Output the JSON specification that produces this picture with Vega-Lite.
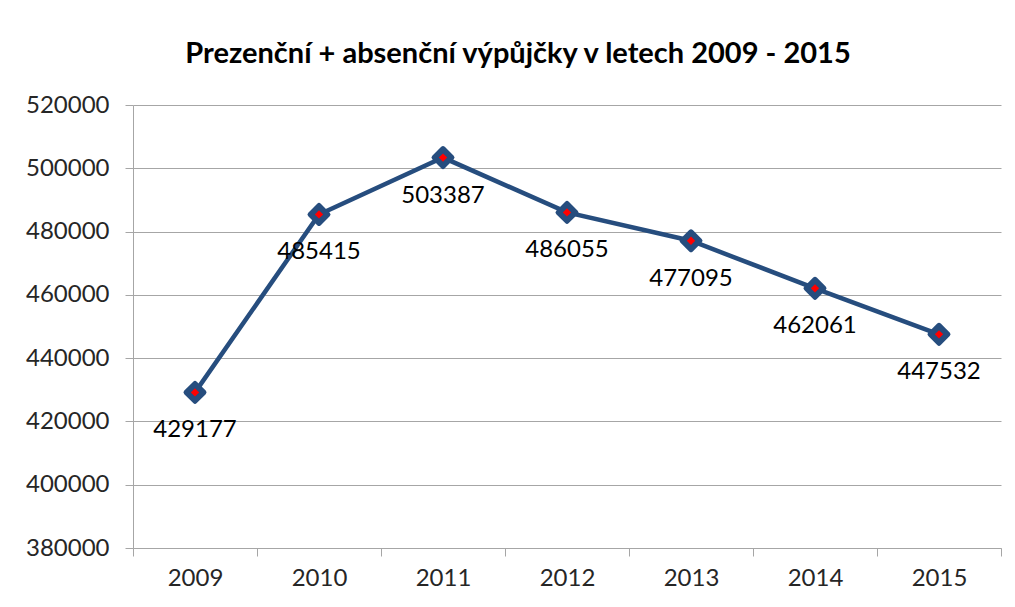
{
  "$schema": "https://vega.github.io/schema/vega-lite/v6.json",
  "width": 868,
  "height": 443,
  "autosize": "none",
  "padding": {"left": 133, "top": 105, "right": 14, "bottom": 59},
  "background": "white",
  "title": {
    "text": "Prezenční + absenční výpůjčky v letech 2009 - 2015",
    "font": "Lato",
    "fontSize": 29,
    "fontWeight": "bold",
    "color": "#000000",
    "anchor": "middle",
    "dx": -49,
    "offset": 24
  },
  "data": {
    "values": [
      {"year": "2009", "value": 429177},
      {"year": "2010", "value": 485415},
      {"year": "2011", "value": 503387},
      {"year": "2012", "value": 486055},
      {"year": "2013", "value": 477095},
      {"year": "2014", "value": 462061},
      {"year": "2015", "value": 447532}
    ]
  },
  "encoding": {
    "x": {
      "field": "year",
      "type": "ordinal",
      "bandPosition": 0.5,
      "scale": {"type": "band", "paddingInner": 0, "paddingOuter": 0},
      "axis": {
        "title": null,
        "labelAngle": 0,
        "tickBand": "extent",
        "domainColor": "#a6a6a6",
        "tickColor": "#a6a6a6",
        "tickSize": 8,
        "labelFont": "Lato",
        "labelFontSize": 24,
        "labelColor": "#262626",
        "labelPadding": 10,
        "grid": false
      }
    },
    "y": {
      "field": "value",
      "type": "quantitative",
      "scale": {"domain": [380000, 520000], "nice": false, "zero": false},
      "axis": {
        "title": null,
        "values": [380000, 400000, 420000, 440000, 460000, 480000, 500000, 520000],
        "format": "d",
        "grid": true,
        "gridColor": "#a6a6a6",
        "domainColor": "#a6a6a6",
        "tickColor": "#a6a6a6",
        "tickSize": 8,
        "labelFont": "Lato",
        "labelFontSize": 24,
        "labelColor": "#262626",
        "labelPadding": 16
      }
    }
  },
  "layer": [
    {"mark": {"type": "line", "color": "#264D7E", "strokeWidth": 4.5}},
    {"mark": {"type": "point", "shape": "diamond", "filled": true, "color": "#264D7E", "stroke": "#264D7E", "strokeWidth": 5, "strokeJoin": "round", "size": 320, "opacity": 1}},
    {"mark": {"type": "point", "shape": "diamond", "filled": true, "color": "#ff0000", "size": 70, "opacity": 1}},
    {
      "mark": {"type": "text", "font": "Lato", "fontSize": 24, "color": "#000000", "baseline": "middle", "dy": 38},
      "encoding": {"text": {"field": "value", "type": "quantitative", "format": "d"}}
    }
  ],
  "config": {"view": {"stroke": null}}
}
